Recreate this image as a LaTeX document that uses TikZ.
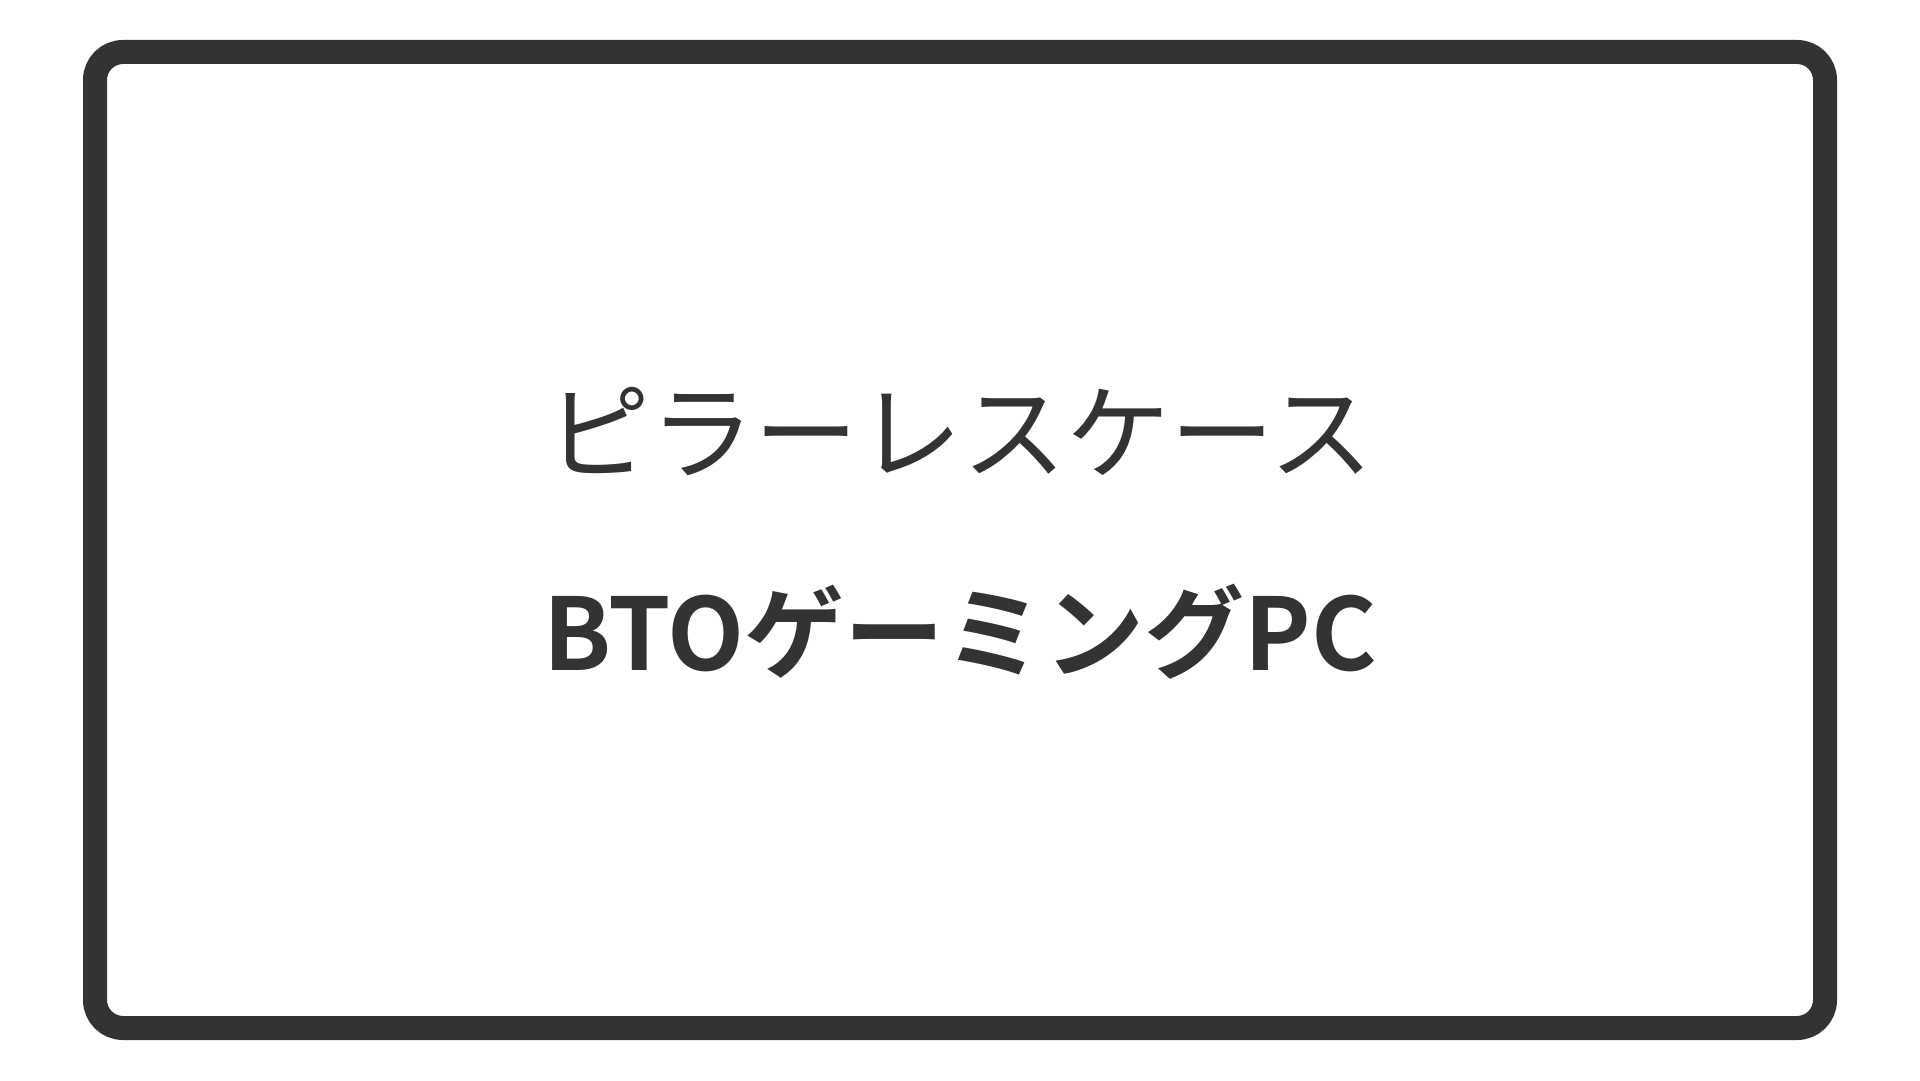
\documentclass[tikz,border=0pt]{standalone}
\usepackage{fontspec}
\newfontfamily\cjk{Noto Sans CJK JP}
\newfontfamily\cjkb{Noto Sans CJK JP Bold}
\definecolor{ink}{HTML}{333333}
\begin{document}
\begin{tikzpicture}[x=1pt,y=1pt,
  frame/.style={draw=ink,line width=24pt,rounded corners=28pt},
  title/.style={text=ink,inner sep=0pt,anchor=center}]
\useasboundingbox (0,0) rectangle (1920,1080);
\fill[white] (0,0) rectangle (1920,1080);
\draw[frame] (95,52) rectangle (1825,1028);
\node[title,font=\cjk\fontsize{104}{110}\selectfont] (t1) at (960,648) {ピラーレスケース};
\node[title,font=\cjkb\fontsize{100}{110}\selectfont] (t2) at (960,448) {BTOゲーミングPC};
\end{tikzpicture}
\end{document}
